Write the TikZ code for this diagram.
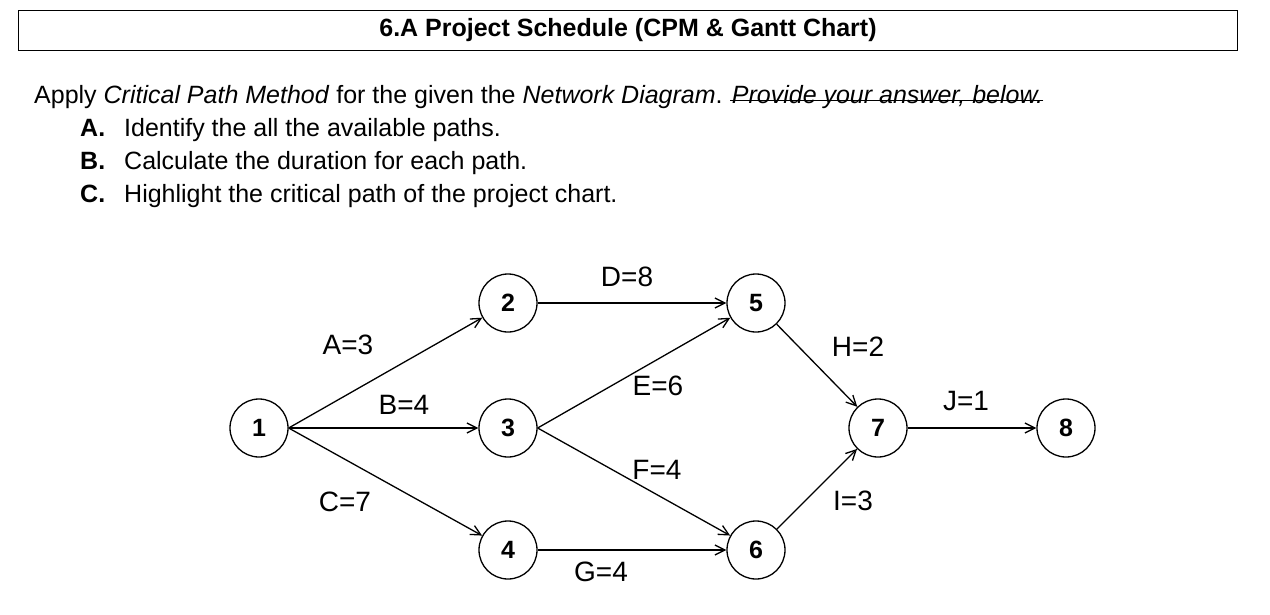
\documentclass[tikz,border=0pt]{standalone}
\usepackage{fontspec}
\setmainfont{Liberation Sans}
\usetikzlibrary{arrows.meta}
\newcommand{\myul}[1]{\tikz[baseline=(u.base)]\node[inner sep=0pt,outer sep=0pt](u){#1}; \kern-0.5pt}
\begin{document}
\begin{tikzpicture}[x=1pt,y=-1pt,
  nd/.style={circle,draw,line width=1.3pt,minimum size=58pt,inner sep=0pt,font=\fontsize{25}{28}\selectfont\bfseries},
  lb/.style={font=\fontsize{28}{30}\selectfont},
  ar/.style={draw,line width=1.3pt,-{Straight Barb[length=10pt,width=10pt]}},
  tx/.style={anchor=base west,font=\fontsize{25}{28}\selectfont,inner sep=0pt}]
\useasboundingbox (0,0) rectangle (1270,614);
\node[draw,line width=0.8pt,minimum width=1219pt,minimum height=40pt,anchor=north west,inner sep=0pt] (title) at (18,10) {};
\node[font=\fontsize{25}{28}\selectfont\bfseries] (tt) at (628,30) {6.A Project Schedule (CPM \& Gantt Chart)};
\node[tx] (l0) at (34,103) {Apply \textit{Critical Path Method} for the given the \textit{Network Diagram}. \textit{Provide your answer, below.}};
\draw[line width=1pt] ([yshift=3pt]l0.base east) -- ++(-313,0);
\node[tx] (la) at (80,136) {\textbf{A.}};
\node[tx] (ta) at (124,136) {Identify the all the available paths.};
\node[tx] (lbb) at (80,169) {\textbf{B.}};
\node[tx] (tb) at (124,169) {Calculate the duration for each path.};
\node[tx] (lc) at (80,202) {\textbf{C.}};
\node[tx] (tc) at (124,202) {Highlight the critical path of the project chart.};
\node[nd] (n1) at (259,428) {1};
\node[nd] (n2) at (508,303) {2};
\node[nd] (n3) at (508,428) {3};
\node[nd] (n4) at (508,550) {4};
\node[nd] (n5) at (756,303) {5};
\node[nd] (n6) at (756,550) {6};
\node[nd] (n7) at (878,428) {7};
\node[nd] (n8) at (1066,428) {8};
\draw[ar] (n1.east) -- (n2);
\draw[ar] (n1.east) -- (n3);
\draw[ar] (n1.east) -- (n4);
\draw[ar] (n2) -- (n5);
\draw[ar] (n3.east) -- (n5);
\draw[ar] (n3.east) -- (n6);
\draw[ar] (n4) -- (n6);
\draw[ar] (n5) -- (n7);
\draw[ar] (n6) -- (n7);
\draw[ar] (n7) -- (n8);
\node[lb] (a) at (348,345) {A=3};
\node[lb] (b) at (404,405) {B=4};
\node[lb] (c) at (345,502) {C=7};
\node[lb] (d) at (627,277) {D=8};
\node[lb] (e) at (658,386) {E=6};
\node[lb] (f) at (657,470) {F=4};
\node[lb] (g) at (601,572) {G=4};
\node[lb] (h) at (858,347) {H=2};
\node[lb] (j) at (966,401) {J=1};
\node[lb] (i) at (853,501) {I=3};
\end{tikzpicture}
\end{document}
